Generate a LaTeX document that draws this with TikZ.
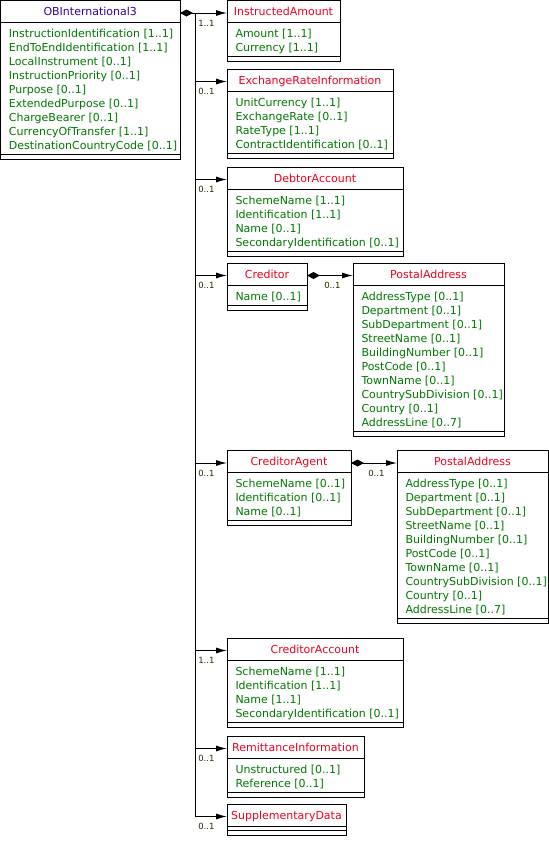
\documentclass[tikz,border=0pt]{standalone}
\usepackage{fontspec}
\setmainfont{DejaVu Sans}
\usepackage{tikz}
\usetikzlibrary{arrows.meta, positioning, calc}

\definecolor{attrgreen}{RGB}{0,120,0}
\definecolor{namered}{RGB}{240,0,30}
\definecolor{rootblue}{RGB}{51,0,153}
\definecolor{multbrown}{RGB}{50,35,0}

\newcommand{\umlclass}[7][classname]{%
    \pgfmathsetmacro{\attrh}{#5==0 ? 4 : 14*#5+6}
    \pgfmathsetmacro{\boxh}{22+\attrh+5}
    \node[classbox, minimum width=#4pt, minimum height=\boxh pt] (#2) at (#3) {};
    \draw (#2.north west) ++(0,22) -- ++(#4,0);
    \draw (#2.north west) ++(0,{22+\attrh}) -- ++(#4,0);
    \path (#2.north) ++(0,12.5) node[#1] (#2-t) {#6};
    \ifnum#5>0
        \foreach \a [count=\i] in {#7}
            \path (#2.north west) ++(8,{34.5+14*(\i-1)}) node[attr] (#2-a\i) {\a};
    \fi
}

\begin{document}
\begin{tikzpicture}[x=1pt, y=-1pt, line width=1pt,
    classbox/.style={draw, rectangle, anchor=north west, inner sep=0pt, outer sep=0pt},
    classname/.style={text=namered, font=\fontsize{11}{14}\selectfont, inner sep=0pt, text height=8pt, text depth=2.5pt},
    rootname/.style={classname, text=rootblue},
    attr/.style={text=attrgreen, anchor=west, font=\fontsize{11}{14}\selectfont, inner sep=0pt, text height=8pt, text depth=2.5pt},
    mult/.style={text=multbrown, anchor=east, font=\fontsize{8.5}{9}\selectfont, inner sep=0pt},
    assoc/.style={-{Latex[length=11pt,width=6pt]}},
    compo/.style={{Diamond[length=13pt,width=7pt]}-{Latex[length=11pt,width=6pt]}}]
    \useasboundingbox (0,0) rectangle (549,849);

    \umlclass[rootname]{obi}{0.5,0.5}{179.5}{9}{OBInternational3}{InstructionIdentification [1..1], EndToEndIdentification [1..1], LocalInstrument [0..1], InstructionPriority [0..1], Purpose [0..1], ExtendedPurpose [0..1], ChargeBearer [0..1], CurrencyOfTransfer [1..1], DestinationCountryCode [0..1]}

    \umlclass{ia}{227,0.5}{113}{2}{InstructedAmount}{Amount [1..1], Currency [1..1]}
    \umlclass{eri}{227,69}{166}{4}{ExchangeRateInformation}{UnitCurrency [1..1], ExchangeRate [0..1], RateType [1..1], ContractIdentification [0..1]}
    \umlclass{da}{227,167}{176}{4}{DebtorAccount}{SchemeName [1..1], Identification [1..1], Name [0..1], SecondaryIdentification [0..1]}
    \umlclass{cr}{227,263}{80}{1}{Creditor}{Name [0..1]}
    \umlclass{pa1}{353,263}{151}{10}{PostalAddress}{AddressType [0..1], Department [0..1], SubDepartment [0..1], StreetName [0..1], BuildingNumber [0..1], PostCode [0..1], TownName [0..1], CountrySubDivision [0..1], Country [0..1], AddressLine [0..7]}
    \umlclass{ca}{227,450.5}{124}{3}{CreditorAgent}{SchemeName [0..1], Identification [0..1], Name [0..1]}
    \umlclass{pa2}{397,450.5}{151}{10}{PostalAddress}{AddressType [0..1], Department [0..1], SubDepartment [0..1], StreetName [0..1], BuildingNumber [0..1], PostCode [0..1], TownName [0..1], CountrySubDivision [0..1], Country [0..1], AddressLine [0..7]}
    \umlclass{cac}{227,638}{176}{4}{CreditorAccount}{SchemeName [1..1], Identification [1..1], Name [1..1], SecondaryIdentification [0..1]}
    \umlclass{ri}{227,736}{137}{2}{RemittanceInformation}{Unstructured [0..1], Reference [0..1]}
    \umlclass{sd}{227,804}{119}{0}{SupplementaryData}{}

    \coordinate (trunk) at ($(obi-t -| obi.east)+(15,0)$);
    \draw[compo] (obi-t -| obi.east) -- (ia-t -| ia.west);
    \draw (trunk) -- (trunk |- sd-t);
    \foreach \c in {eri,da,cr,ca,cac,ri,sd}
        \draw[assoc] (trunk |- \c-t) -- (\c-t -| \c.west);

    \draw[compo] (cr-t -| cr.east) -- (pa1-t -| pa1.west);
    \draw[compo] (ca-t -| ca.east) -- (pa2-t -| pa2.west);

    \foreach \c/\m in {ia/1..1, eri/0..1, da/0..1, cr/0..1, pa1/0..1, ca/0..1, pa2/0..1, cac/1..1, ri/0..1, sd/0..1}
        \path (\c-t -| \c.west) ++(-12,10) node[mult] (\c-m) {\m};
\end{tikzpicture}
\end{document}
